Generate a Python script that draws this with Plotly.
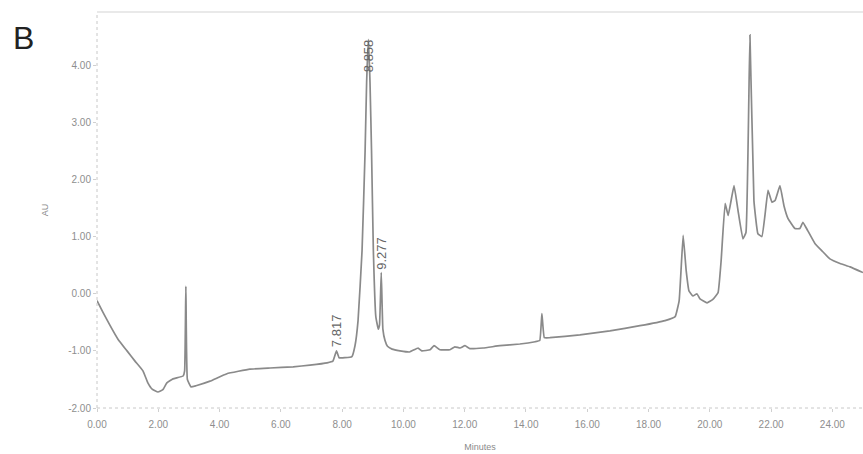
import plotly.graph_objects as go

# Chromatogram trace: retention time (min) and detector response (AU)
time_min = [
    0.00, 0.20, 0.42, 0.69, 0.98, 1.24, 1.50, 1.66, 1.80, 1.99, 2.15, 2.28, 2.48, 2.81, 2.86,
    2.90, 2.95, 3.07, 3.23, 3.69, 4.24, 4.99, 5.65, 6.40, 6.95, 7.51, 7.70,
    7.817, 7.90, 8.09, 8.32, 8.42, 8.52, 8.65, 8.75, 8.80, 8.858, 8.91, 8.96,
    9.02, 9.10, 9.18, 9.22, 9.277, 9.33, 9.40, 9.48, 9.63, 9.89, 10.20, 10.48,
    10.60, 10.87, 11.00, 11.19, 11.52, 11.68, 11.85, 12.01, 12.17, 12.60, 13.15,
    13.80, 14.30, 14.45, 14.52, 14.60, 14.78, 15.76, 16.74, 17.72, 18.54, 18.87,
    19.00, 19.13, 19.23, 19.32, 19.45, 19.58, 19.68, 19.91, 20.10, 20.27, 20.37,
    20.50, 20.60, 20.79, 20.92, 21.08, 21.18, 21.31, 21.44, 21.57, 21.70, 21.80,
    21.90, 22.03, 22.13, 22.29, 22.42, 22.55, 22.78, 22.94, 23.04, 23.20, 23.43,
    23.66, 23.92, 24.25, 24.58, 25.00,
]
absorbance_au = [
    -0.12, -0.33, -0.55, -0.80, -1.00, -1.18, -1.35, -1.56, -1.67, -1.72, -1.68, -1.56, -1.49, -1.44, -1.35,
    0.13, -1.50, -1.63, -1.61, -1.53, -1.40, -1.32, -1.30, -1.28, -1.25, -1.21, -1.18,
    -1.00, -1.12, -1.12, -1.10, -0.91, -0.47, 0.75, 2.50, 3.70, 4.45, 3.70, 2.50,
    0.75, -0.40, -0.62, -0.55, 0.37, -0.62, -0.82, -0.92, -0.97, -1.00, -1.02, -0.95,
    -1.00, -0.98, -0.91, -0.98, -0.98, -0.93, -0.95, -0.91, -0.96, -0.95, -0.91,
    -0.88, -0.84, -0.82, -0.35, -0.77, -0.77, -0.72, -0.65, -0.56, -0.47, -0.40,
    -0.12, 1.02, 0.40, 0.05, -0.04, 0.00, -0.09, -0.16, -0.10, 0.02, 0.58,
    1.58, 1.37, 1.89, 1.46, 0.96, 1.07, 4.53, 1.63, 1.05, 1.00, 1.37,
    1.81, 1.60, 1.63, 1.89, 1.54, 1.32, 1.14, 1.14, 1.25, 1.10, 0.88,
    0.75, 0.61, 0.53, 0.47, 0.37,
]

# Integrated peaks with their retention-time labels
peak_times = [7.817, 8.858, 9.277]
peak_labels = ["7.817", "8.858", "9.277"]
label_base_au = [-0.97, 3.84, 0.38]

x_ticks = [0, 2, 4, 6, 8, 10, 12, 14, 16, 18, 20, 22, 24]
y_ticks = [-2, -1, 0, 1, 2, 3, 4]

fig = go.Figure()
fig.add_trace(go.Scatter(
    x=time_min, y=absorbance_au, mode="lines",
    line=dict(color="#8a8a8a", width=1.7, shape="spline", smoothing=0.3),
    hoverinfo="skip", showlegend=False,
))

for t, lab, yb in zip(peak_times, peak_labels, label_base_au):
    fig.add_annotation(
        x=t, y=yb, text=lab, showarrow=False, textangle=-90,
        xanchor="center", yanchor="bottom",
        font=dict(family="Liberation Sans, Arial", size=13, color="#666666"),
    )

axis_font = dict(family="Liberation Sans, Arial", size=10, color="#8e8e8e")
fig.update_xaxes(
    range=[0, 25], tickvals=x_ticks,
    ticktext=[f"{v:.2f}" for v in x_ticks],
    showgrid=False, zeroline=False, showline=False,
    ticks="outside", ticklen=3, tickcolor="#d0d0d0", tickfont=axis_font,
    ticklabelstandoff=4,
    title=dict(text="Minutes", font=dict(family="Liberation Sans, Arial", size=9, color="#8a8a8a"), standoff=14),
)
fig.update_yaxes(
    range=[-2, 4.93], tickvals=y_ticks,
    ticktext=[f"{v:.2f}" for v in y_ticks],
    showgrid=False, zeroline=False, showline=False,
    ticks="outside", ticklen=3, tickcolor="#d0d0d0", tickfont=axis_font,
    title=dict(text="AU", font=dict(family="Liberation Sans, Arial", size=9, color="#8a8a8a"), standoff=18),
)

# Frame: dotted left/bottom axes, faint top border
fig.add_shape(type="line", xref="paper", yref="paper", x0=0, x1=0, y0=0, y1=1,
              line=dict(color="#c8c8c8", width=1, dash="dot"))
fig.add_shape(type="line", xref="paper", yref="paper", x0=0, x1=1, y0=0, y1=0,
              line=dict(color="#c8c8c8", width=1, dash="dot"))
fig.add_shape(type="line", xref="paper", yref="paper", x0=0, x1=1, y0=1, y1=1,
              line=dict(color="#e2e2e2", width=1.5))

fig.add_annotation(
    xref="paper", yref="paper", x=-0.112, y=0.985, xanchor="left", yanchor="top",
    text="B", showarrow=False,
    font=dict(family="Liberation Sans, Arial", size=32, color="#222222"),
)

fig.update_layout(
    width=863, height=454,
    margin=dict(l=97, r=0, t=12, b=46),
    paper_bgcolor="white", plot_bgcolor="white",
)

fig.write_html("out.html", config={"displayModeBar": False})
